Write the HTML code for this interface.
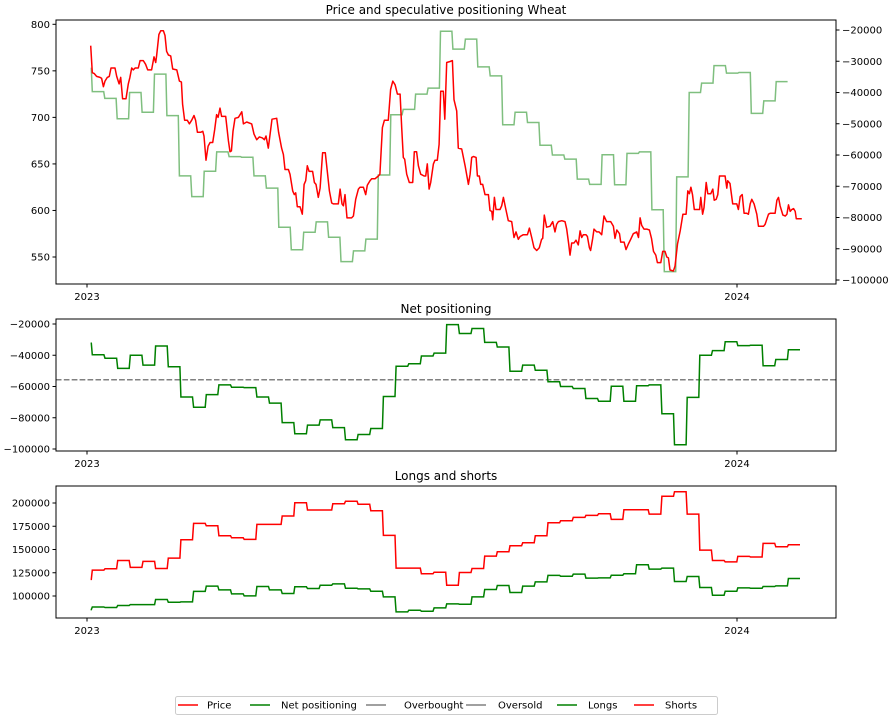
<!DOCTYPE html>
<html><head><meta charset="utf-8"><style>
body{margin:0;background:#fff;}
svg{display:block;font-family:"DejaVu Sans","Liberation Sans",sans-serif;}
</style></head><body>
<svg id="chart" width="890" height="716" viewBox="0 0 890 716" xmlns="http://www.w3.org/2000/svg"></svg>
<script>
// ---- data ----
const weekStartDays = [2,3]; // first two starts, then weekly
const netPositioning = [-32300,-39700,-41900,-48400,-40000,-46300,-34100,-47400,-66700,-73300,-65200,-59000,-60500,-60700,-66700,-70600,-83100,-90300,-84700,-81400,-86300,-94100,-90700,-86900,-66400,-47100,-45400,-40500,-38600,-20400,-26100,-22900,-31800,-34700,-50300,-46300,-49600,-56900,-60000,-61300,-67700,-69400,-59900,-69500,-59500,-59000,-77500,-97300,-67000,-40000,-37000,-31400,-33800,-33600,-46700,-42700,-36500];
const shorts = [117800,127800,129200,138200,130700,137200,129600,140700,160500,178100,175500,164800,162600,160900,177000,177000,186000,200300,192500,192500,199300,201800,198600,191700,165200,130000,130000,123900,125600,111600,125300,129600,142900,147500,154000,157200,164800,178800,180900,184500,186700,188500,182400,192800,192800,188100,207200,212200,188100,149400,138200,136700,142600,141900,156600,152900,155100];
const longs = [85400,88200,87600,89800,90800,90800,96200,93300,93700,104900,110600,106600,102300,100100,110200,106600,102700,109900,108100,111600,113000,108400,107600,105200,99000,82900,84700,83600,87200,91500,91200,99000,107000,111300,103800,110600,115200,122100,121300,123500,119200,119500,122400,123900,133500,128900,130000,115600,121000,109100,100900,105200,108700,108400,110200,110900,118800];
const endDay = 394;
const endDayWeekly = 401;
const overbought = -55650;
const oversold = -55650;
const priceDays = [2.1,3.0,4.1,5.4,7.3,8.2,9.2,10.1,11.4,12.5,13.5,15.7,16.7,18.0,18.9,20.0,21.9,23.2,24.1,25.1,26.0,27.0,28.8,29.8,31.6,32.9,34.1,36.3,37.6,38.6,39.1,40.4,41.4,42.9,43.8,44.7,45.7,47.0,48.1,50.4,51.9,53.0,53.7,54.8,56.3,57.5,58.8,60.1,61.0,62.0,63.8,65.0,65.7,66.8,68.0,69.1,70.6,71.7,72.8,73.6,74.7,75.6,77.9,79.4,80.3,81.1,82.0,83.1,85.0,86.9,87.8,89.7,92.5,93.8,95.3,96.8,98.5,99.6,100.5,101.8,102.8,103.9,106.5,107.6,109.3,110.3,111.2,113.1,114.0,115.5,116.4,117.2,118.1,119.6,120.9,121.9,122.8,123.7,124.7,126.7,127.7,128.6,129.9,130.9,132.3,133.8,135.0,136.1,137.4,138.3,141.1,142.1,143.2,144.0,144.9,146.0,148.6,149.6,150.9,152.4,153.3,155.2,156.5,157.4,158.9,159.9,161.7,163.6,164.5,165.9,167.0,169.2,170.5,171.7,173.0,174.3,175.8,176.7,177.6,178.4,179.5,181.0,182.9,183.8,185.1,186.1,187.4,189.3,190.2,191.1,192.1,193.0,194.5,195.4,196.7,197.7,198.6,199.2,200.1,200.9,202.0,203.9,205.2,206.1,207.6,208.5,210.4,212.3,214.2,215.1,216.0,217.0,218.5,219.2,220.3,221.1,222.2,223.5,225.4,226.3,227.3,227.8,228.8,229.7,231.9,232.9,233.8,235.1,236.6,238.5,239.8,240.9,242.2,243.2,245.0,247.3,248.4,249.7,251.0,252.5,254.0,255.3,255.9,256.8,258.1,260.0,261.5,262.8,263.7,264.7,266.6,268.4,269.4,270.5,271.2,272.2,273.5,274.6,275.9,276.9,277.8,278.7,280.2,281.0,282.1,282.8,284.0,284.7,286.2,287.5,289.0,290.3,291.8,294.1,295.6,296.5,297.5,299.0,299.7,301.6,302.7,304.0,305.3,306.8,308.7,309.7,310.6,311.5,312.8,314.3,315.8,317.0,318.1,319.4,320.3,322.2,323.3,324.6,325.6,326.5,327.4,329.3,330.2,331.6,333.1,334.6,336.4,337.4,338.3,339.1,340.0,341.0,342.5,344.0,344.7,345.7,346.5,347.7,348.6,350.3,351.4,352.2,353.3,354.2,355.2,356.5,358.3,359.3,359.8,361.1,362.6,364.0,364.9,365.8,366.8,367.9,369.0,370.5,371.4,372.4,373.3,374.6,376.1,377.1,378.4,379.9,380.8,382.7,383.6,386.4,387.4,388.3,389.2,390.8,392.1,393.0,393.9,394.9,395.8,396.8,397.7,398.3,400.1,401.4];
const priceValues = [777,748,747,744,743,742,733,739,743,744,753,753,744,736,743,720,720,736,743,753,751,753,753,761,761,757,751,751,765,759,766,789,793,793,788,771,767,766,752,751,739,738,714,697,697,693,697,702,697,684,684,685,680,654,669,673,673,687,703,700,710,701,701,675,663,664,685,699,700,706,693,695,693,682,676,679,678,676,680,667,682,698,699,684,667,660,644,644,639,621,617,619,604,604,596,628,632,648,642,642,630,628,614,624,662,662,641,621,608,607,607,623,607,605,617,592,592,594,612,623,625,625,617,627,632,634,634,637,639,689,697,697,730,739,735,725,725,689,657,655,639,630,630,663,663,648,639,637,637,650,623,630,650,654,654,671,728,728,728,698,759,760,761,719,707,667,666,648,628,639,657,658,657,637,637,628,628,617,617,600,599,590,614,601,601,605,614,602,589,588,571,577,569,572,574,574,581,571,560,557,560,569,570,595,582,583,588,577,585,588,589,588,580,564,552,565,565,568,563,578,571,574,574,572,560,557,570,580,577,577,574,594,588,588,583,570,579,575,566,566,558,564,569,575,577,571,592,584,580,580,579,570,556,552,544,544,556,556,550,549,536,535,540,564,578,596,596,621,618,625,617,601,601,601,614,596,603,630,618,618,623,611,612,617,637,637,637,624,632,629,607,607,607,601,615,617,597,597,596,607,612,607,596,583,583,583,585,596,597,597,611,614,605,595,594,596,606,599,601,602,599,591,591,591];
const priceTicks = [550,600,650,700,750,800];
const rightTicks = [-100000,-90000,-80000,-70000,-60000,-50000,-40000,-30000,-20000];
const netTicks = [-100000,-80000,-60000,-40000,-20000];
const lsTicks = [100000,125000,150000,175000,200000];
const yearTicks = [{label:'2023',day:0},{label:'2024',day:365}];

// ---- layout ----
const NS='http://www.w3.org/2000/svg';
const svg=document.getElementById('chart');
const L=56,R=836;
const xScale=d=>87+d*1.7808;
function lin(d0,d1,r0,r1){return v=>r0+(v-d0)/(d1-d0)*(r1-r0);}
const P1={top:20,bot:284}, P2={top:319,bot:451}, P3={top:486,bot:618};
const yPrice=lin(550,800,257,24.3);
const yRight=lin(-100000,-20000,280,30);
const yNet=lin(-100000,-20000,449,324);
const yLS=lin(100000,200000,596,503);
function el(tag,attrs,parent){const e=document.createElementNS(NS,tag);for(const k in attrs)e.setAttribute(k,attrs[k]);(parent||svg).appendChild(e);return e;}
function txt(s,attrs,parent){const t=el('text',attrs,parent);t.textContent=s;return t;}
const fmt=v=>(v<0?'\u2212':'')+Math.abs(v);

function weekStarts(n,wk){const s=[weekStartDays[0]];for(let k=1;k<n;k++)s.push(weekStartDays[1]+(k-1)*wk);return s;}
function stepPath(vals,yf,end){const n=vals.length;const wk=(end-weekStartDays[1])/(n-1);const s=weekStarts(n,wk);let p='';for(let k=0;k<n;k++){const a=s[k],b=(k+1<n?s[k+1]:end);const y=yf(vals[k]).toFixed(1);p+=(k?'L':'M')+xScale(a).toFixed(1)+','+y+'L'+xScale(Math.max(a,b-0.6)).toFixed(1)+','+y;}return p;}

function axesFrame(P,name){
  const g=el('g',{});  
  return g;
}
function frame(P,g){el('rect',{x:L,y:P.top,width:R-L,height:P.bot-P.top,fill:'none',stroke:'#000','stroke-width':1},g);}
function xAxis(P,g){yearTicks.forEach(t=>{const x=xScale(t.day);el('line',{x1:x,x2:x,y1:P.bot,y2:P.bot+3.5,stroke:'#000'},g);const tt=txt(t.label,{x:x,y:P.bot+16,'text-anchor':'middle','font-size':10,fill:'#000'},g);});}
function yAxisLeft(ticks,yf,g,name){ticks.forEach(v=>{const y=yf(v);el('line',{x1:L-3.5,x2:L,y1:y,y2:y,stroke:'#000'},g);const t=txt(fmt(v),{x:L-6,y:y+3.6,'text-anchor':'end','font-size':10,fill:'#000'},g);});}

// Panel 1
const g1=axesFrame(P1,'price-panel');
const c1=el('clipPath',{id:'c1'});el('rect',{x:L,y:P1.top,width:R-L,height:P1.bot-P1.top},c1);
el('path',{d:stepPath(netPositioning,yRight,endDay),fill:'none',stroke:'#008000','stroke-opacity':0.5,'stroke-width':1.5,'clip-path':'url(#c1)',},g1);
let pp='';priceDays.forEach((d,i)=>{pp+=(i?'L':'M')+xScale(d).toFixed(1)+','+yPrice(priceValues[i]).toFixed(1);});
el('path',{d:pp,fill:'none',stroke:'#ff0000','stroke-width':1.5,'stroke-linejoin':'round','clip-path':'url(#c1)',},g1);
frame(P1,g1);xAxis(P1,g1);yAxisLeft(priceTicks,yPrice,g1,'price-y-tick-label');
rightTicks.forEach(v=>{const y=yRight(v);el('line',{x1:R,x2:R+3.5,y1:y,y2:y,stroke:'#000'},g1);const t=txt(fmt(v),{x:R+6,y:y+3.6,'font-size':10,fill:'#000'},g1);});
const t1=txt('Price and speculative positioning Wheat',{x:(L+R)/2,y:14,'text-anchor':'middle','font-size':12,fill:'#000'},g1);


// Panel 2
const g2=axesFrame(P2,'net-positioning-panel');
el('line',{x1:L,x2:R,y1:yNet(overbought),y2:yNet(overbought),stroke:'#808080','stroke-width':1.5,'stroke-dasharray':'5.5,2.4',},g2);
el('line',{x1:L,x2:R,y1:yNet(oversold),y2:yNet(oversold),stroke:'#808080','stroke-width':1.5,'stroke-dasharray':'5.5,2.4',},g2);
el('path',{d:stepPath(netPositioning,yNet,endDayWeekly),fill:'none',stroke:'#008000','stroke-width':1.5,},g2);
frame(P2,g2);xAxis(P2,g2);yAxisLeft(netTicks,yNet,g2,'net-y-tick-label');
const t2=txt('Net positioning',{x:(L+R)/2,y:313,'text-anchor':'middle','font-size':12,fill:'#000'},g2);


// Panel 3
const g3=axesFrame(P3,'longs-shorts-panel');
el('path',{d:stepPath(shorts,yLS,endDayWeekly),fill:'none',stroke:'#ff0000','stroke-width':1.5,},g3);
el('path',{d:stepPath(longs,yLS,endDayWeekly),fill:'none',stroke:'#008000','stroke-width':1.5,},g3);
frame(P3,g3);xAxis(P3,g3);yAxisLeft(lsTicks,yLS,g3,'ls-y-tick-label');
const t3=txt('Longs and shorts',{x:(L+R)/2,y:480,'text-anchor':'middle','font-size':12,fill:'#000'},g3);


// Legend
const lg=el('g',{});
el('rect',{x:175.5,y:696.5,width:542,height:18,rx:2,fill:'#fff',stroke:'#ccc'},lg);
const items=[['Price','#ff0000',178,207],['Net positioning','#008000',250,281],['Overbought','#808080',366,404],['Oversold','#808080',466,498],['Longs','#008000',557,588],['Shorts','#ff0000',634,665]];
items.forEach(it=>{const g=el('g',{},lg);
el('line',{x1:it[2],x2:it[2]+20,y1:705,y2:705,stroke:it[1],'stroke-width':1.5},g);
txt(it[0],{x:it[3],y:708.6,'font-size':10,fill:'#000'},g);});
</script>
</body></html>
